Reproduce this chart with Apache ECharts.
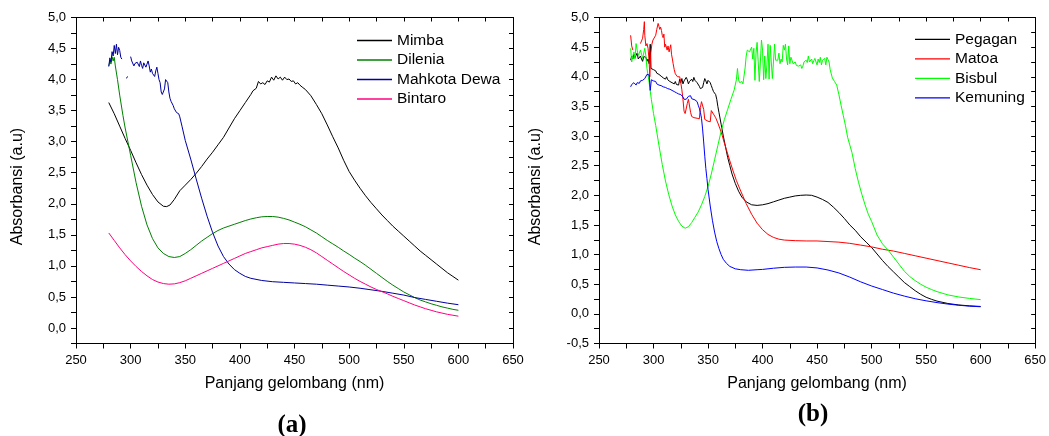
<!DOCTYPE html>
<html>
<head>
<meta charset="utf-8">
<script src="https://cdn.jsdelivr.net/npm/echarts@6/dist/echarts.min.js"></script>
<style>
html,body{margin:0;padding:0;background:#fff;}
#chart{width:1049px;height:436px;}
</style>
</head>
<body>
<div id="chart"></div>
<script>
// ---------- Panel (a) ----------
const seriesNamesA = ['Mimba', 'Dilenia', 'Mahkota Dewa', 'Bintaro'];
const mimba = [[280,3.63],[285,3.45],[290,3.25],[295,3.05],[300,2.86],[305,2.66],[310,2.47],[315,2.30],[320,2.15],[325,2.03],[330,1.96],[333,1.955],[336,1.98],[340,2.07],[345,2.21],[350,2.30],[355,2.39],[360,2.49],[365,2.60],[370,2.72],[375,2.83],[380,2.95],[385,3.07],[390,3.22],[395,3.37],[400,3.50],[405,3.63],[410,3.76],[412,3.82],[415,3.86],[417,3.97],[419,3.93],[421,3.95],[423,3.92],[425,3.98],[427,3.96],[429,4.04],[431,3.99],[433,4.06],[435,4.01],[437,4.04],[439,3.99],[441,4.04],[443,4.00],[445,4.01],[447,3.97],[449,3.98],[451,3.93],[453,3.95],[455,3.91],[457,3.88],[460,3.84],[465,3.74],[470,3.60],[475,3.45],[480,3.27],[485,3.08],[490,2.90],[495,2.70],[500,2.52],[505,2.38],[510,2.25],[515,2.13],[520,2.02],[525,1.92],[530,1.82],[535,1.73],[540,1.64],[545,1.56],[550,1.48],[555,1.40],[560,1.32],[565,1.24],[570,1.17],[575,1.10],[580,1.03],[585,0.96],[590,0.89],[595,0.83],[600,0.77]];
const dilenia = [[280,4.22],[281,4.30],[282,4.25],[283,4.37],[284,4.30],[285,4.36],[286,4.22],[288,4.00],[290,3.75],[293,3.42],[295,3.22],[300,2.78],[305,2.34],[310,1.96],[315,1.66],[320,1.44],[325,1.29],[330,1.20],[335,1.15],[340,1.135],[345,1.15],[350,1.20],[355,1.26],[360,1.33],[365,1.40],[370,1.46],[375,1.52],[380,1.57],[385,1.61],[390,1.64],[395,1.67],[400,1.70],[405,1.73],[410,1.755],[415,1.775],[420,1.79],[425,1.795],[430,1.795],[435,1.785],[440,1.765],[445,1.74],[450,1.705],[455,1.67],[460,1.63],[465,1.58],[470,1.53],[475,1.47],[480,1.41],[485,1.355],[490,1.30],[495,1.24],[500,1.185],[505,1.125],[510,1.07],[515,1.01],[520,0.945],[525,0.88],[530,0.815],[535,0.75],[540,0.69],[545,0.635],[550,0.58],[555,0.535],[560,0.49],[565,0.45],[570,0.42],[575,0.39],[580,0.365],[585,0.34],[590,0.32],[595,0.30],[600,0.285]];
const mahkotaDewa = [[280,4.21],[281,4.35],[282,4.28],[283,4.45],[284,4.38],[285,4.55],[286,4.42],[287,4.57],[288,4.40],[289,4.52],[290,4.47],[291,4.36],[292,4.33],[293,null],[295.8,4.02],[297.6,4.05],[298.5,null],[300,4.37],[301,4.30],[302,4.31],[303,4.22],[304,4.26],[305,4.24],[306,4.28],[307,4.25],[308,4.21],[309,4.30],[310,4.23],[311,4.18],[312,4.27],[313,4.28],[314,4.20],[315,4.25],[316,4.30],[317,4.22],[318,4.12],[319,4.17],[320,4.10],[321,4.08],[322,4.05],[323,4.14],[324,4.20],[325,4.10],[326,4.00],[327,3.95],[328,3.80],[329,3.76],[330,3.74],[331,3.85],[332,4.00],[333,4.02],[334,3.95],[335,3.80],[336,3.70],[337,3.65],[338,3.62],[339,3.58],[340,3.53],[341,3.50],[342,3.47],[343,3.48],[344,3.45],[345,3.40],[347,3.25],[350,3.02],[355,2.72],[360,2.40],[365,2.09],[370,1.80],[375,1.54],[380,1.32],[385,1.15],[390,1.03],[395,0.94],[400,0.88],[405,0.83],[410,0.80],[420,0.765],[430,0.745],[440,0.735],[450,0.725],[460,0.715],[470,0.705],[480,0.69],[490,0.675],[500,0.66],[510,0.64],[520,0.615],[530,0.59],[540,0.56],[550,0.53],[560,0.49],[570,0.46],[580,0.43],[590,0.40],[600,0.375]];
const bintaro = [[280,1.53],[285,1.41],[290,1.29],[295,1.18],[300,1.08],[305,0.99],[310,0.91],[315,0.84],[320,0.78],[325,0.74],[330,0.715],[335,0.705],[340,0.71],[345,0.73],[350,0.76],[355,0.80],[360,0.84],[365,0.88],[370,0.92],[375,0.96],[380,1.00],[385,1.04],[390,1.08],[395,1.12],[400,1.16],[405,1.20],[410,1.23],[415,1.26],[420,1.29],[425,1.31],[430,1.33],[435,1.35],[440,1.36],[445,1.36],[450,1.35],[455,1.33],[460,1.30],[465,1.26],[470,1.21],[475,1.15],[480,1.09],[485,1.03],[490,0.97],[495,0.91],[500,0.855],[505,0.80],[510,0.75],[515,0.705],[520,0.66],[525,0.62],[530,0.585],[535,0.55],[540,0.51],[545,0.475],[550,0.44],[555,0.405],[560,0.37],[565,0.34],[570,0.31],[575,0.285],[580,0.26],[585,0.24],[590,0.22],[595,0.205],[600,0.19]];

// ---------- Panel (b) ----------
const seriesNamesB = ['Pegagan', 'Matoa', 'Bisbul', 'Kemuning'];
const pegagan = [[279,4.28],[280,4.35],[281,4.30],[282,4.38],[283,4.32],[284,4.36],[285,4.40],[286,4.30],[287,4.28],[288,4.35],[289,4.30],[290,4.26],[291,4.34],[292,4.37],[293,4.33],[294,4.26],[295,4.30],[296,4.22],[297,4.55],[297.7,4.14],[299,4.14],[300,4.12],[302,4.10],[303,4.06],[304,4.08],[305,4.04],[306,4.07],[307,4.01],[308,4.03],[309,3.98],[310,4.01],[311,3.96],[312,4.00],[313,3.95],[314,3.97],[315,3.92],[316,3.95],[317,3.90],[318,3.93],[319,3.88],[320,3.92],[321,3.87],[322,3.90],[323,3.86],[324,3.96],[325,3.90],[326,3.97],[327,3.88],[328,3.93],[329,3.90],[330,3.99],[331,3.95],[332,3.88],[333,3.92],[334,3.90],[335,3.96],[336,3.92],[337,3.99],[338,3.94],[339,3.96],[340,3.90],[341,3.88],[342,3.84],[343,3.80],[344,3.78],[345,3.82],[346,3.90],[347,3.97],[348,3.93],[349,3.88],[350,3.94],[351,3.97],[352,3.90],[353,3.85],[354,3.80],[355,3.75],[356,3.74],[357,3.70],[358,3.62],[359,3.50],[360,3.40],[362,3.20],[364,3.00],[366,2.82],[368,2.64],[370,2.50],[372,2.36],[375,2.20],[378,2.07],[381,1.97],[385,1.89],[390,1.84],[395,1.83],[400,1.84],[405,1.86],[410,1.89],[415,1.92],[420,1.95],[425,1.97],[430,1.99],[435,2.00],[440,2.005],[445,2.00],[450,1.97],[455,1.93],[460,1.88],[465,1.80],[470,1.71],[475,1.61],[480,1.50],[485,1.41],[490,1.30],[495,1.21],[500,1.12],[505,1.01],[510,0.90],[515,0.80],[520,0.71],[525,0.62],[530,0.53],[535,0.46],[540,0.39],[545,0.33],[550,0.28],[555,0.245],[560,0.215],[570,0.175],[580,0.15],[590,0.135],[600,0.125]];
const matoa = [[279,4.70],[280,4.52],[281,4.45],[282,null],[288,4.56],[289,4.58],[290,4.65],[291,4.80],[291.6,4.93],[292,4.70],[293,4.52],[294,4.56],[295,4.48],[296,4.25],[296.6,4.00],[297.5,4.40],[298.5,4.55],[299.5,4.62],[301,4.65],[302,4.70],[303,4.80],[304.2,4.90],[305,4.85],[305.7,4.80],[306.5,4.84],[307.3,4.78],[308,4.70],[308.8,4.66],[309.5,4.72],[310.3,4.50],[311,4.55],[311.8,4.58],[312.5,4.45],[313.3,4.52],[314.3,4.42],[315,4.48],[315.8,4.54],[316.5,4.38],[317.3,4.30],[318,4.22],[319,4.12],[320,4.05],[321,4.02],[322,4.00],[323,3.99],[324,4.00],[325,3.90],[326,3.78],[327,3.62],[328,3.42],[329,3.38],[330,3.37],[331,3.55],[332,3.62],[333,3.61],[334,3.40],[335,3.33],[337,3.31],[340,3.30],[342,3.29],[343,3.48],[344,3.58],[345,3.57],[346,3.45],[347,3.28],[348,3.26],[350,3.25],[352,3.24],[353,3.43],[354,3.41],[355,3.37],[357,3.31],[359,3.22],[361,3.12],[363,3.01],[365,2.88],[367,2.76],[370,2.58],[373,2.41],[376,2.25],[380,2.07],[385,1.86],[390,1.68],[395,1.53],[400,1.42],[405,1.34],[410,1.29],[415,1.26],[420,1.245],[430,1.235],[440,1.23],[450,1.23],[460,1.22],[470,1.21],[480,1.19],[490,1.16],[500,1.13],[510,1.09],[520,1.06],[530,1.02],[540,0.98],[550,0.94],[560,0.90],[570,0.86],[580,0.82],[590,0.78],[600,0.745]];
const bisbul = [[279,4.48],[280,4.25],[281,4.35],[282,4.42],[283,4.30],[284,4.56],[285,4.45],[286,4.36],[287,4.40],[288,4.45],[289,4.38],[290,4.31],[291,4.40],[292,4.48],[293,4.35],[294,4.14],[296,3.90],[298,3.62],[300,3.38],[302,3.18],[305,2.84],[308,2.52],[311,2.24],[314,2.01],[317,1.82],[320,1.67],[323,1.56],[326,1.48],[329,1.445],[332,1.47],[335,1.54],[338,1.63],[341,1.72],[344,1.84],[347,1.98],[350,2.15],[353,2.36],[356,2.60],[359,2.84],[362,3.08],[365,3.28],[368,3.45],[371,3.62],[374,3.78],[376,3.95],[377,4.14],[378,3.95],[379,3.90],[380,3.88],[381,3.92],[382,3.88],[383,3.90],[384,4.15],[385,4.35],[386,4.45],[387,4.48],[388,4.42],[389,4.39],[390,4.50],[391,4.30],[392,4.48],[393,3.94],[394,4.40],[395,4.58],[396,4.25],[397,3.92],[398,4.25],[399,4.62],[400,4.45],[401,3.95],[402,4.35],[403,3.97],[404,4.20],[405,4.55],[406,3.96],[407,4.53],[408,4.25],[409,3.97],[410,4.25],[411,4.55],[412,4.28],[413,4.30],[414,4.28],[415,4.40],[416,4.22],[417,4.30],[418,4.25],[419,4.53],[420,4.45],[421,4.55],[422,4.30],[423,4.20],[424,4.52],[425,4.22],[426,4.33],[427,4.28],[428,4.22],[429,4.20],[430,4.25],[431,4.19],[432,4.22],[433,4.18],[434,4.15],[435,4.20],[436,4.14],[437,4.18],[438,4.25],[439,4.22],[440,4.28],[441,4.24],[442,4.35],[443,4.25],[444,4.28],[445,4.30],[446,4.22],[447,4.27],[448,4.31],[449,4.25],[450,4.20],[451,4.30],[452,4.24],[453,4.33],[454,4.20],[455,4.28],[456,4.25],[457,4.31],[458,4.20],[459,4.33],[460,4.30],[461,4.25],[462,4.12],[463,4.05],[464,3.98],[466,3.92],[468,3.86],[470,3.70],[472,3.52],[474,3.35],[476,3.18],[478,2.98],[480,2.85],[482,2.72],[485,2.45],[488,2.22],[491,2.02],[494,1.84],[497,1.68],[500,1.56],[505,1.33],[510,1.18],[515,1.08],[520,0.96],[525,0.84],[530,0.72],[535,0.63],[540,0.56],[545,0.50],[550,0.45],[555,0.41],[560,0.375],[570,0.32],[580,0.285],[590,0.26],[600,0.24]];
const kemuning = [[279,3.83],[280,3.87],[281,3.85],[282,3.90],[283,3.88],[284,3.86],[285,3.90],[286,3.91],[287,3.89],[288,3.93],[289,3.92],[290,3.94],[291,3.96],[292,3.97],[293,3.95],[294,4.04],[295,4.05],[296,4.03],[297,3.77],[298,3.95],[299,3.97],[300,3.93],[301,3.90],[302,3.92],[303,3.88],[304,3.90],[305,3.86],[306,3.88],[307,3.85],[308,3.86],[309,3.83],[310,3.85],[311,3.82],[312,3.83],[313,3.80],[314,3.82],[315,3.79],[316,3.80],[317,3.77],[318,3.78],[319,3.75],[320,3.76],[321,3.73],[322,3.74],[323,3.71],[324,3.72],[325,3.70],[326,3.68],[327,3.66],[328,3.62],[329,3.63],[330,3.62],[331,3.64],[332,3.67],[333,3.69],[334,3.68],[335,3.63],[336,3.62],[338,3.61],[340,3.58],[341,3.52],[342,3.47],[343,3.40],[344,3.30],[345,3.12],[346,2.90],[347,2.66],[348,2.45],[349,2.28],[350,2.10],[352,1.82],[354,1.58],[356,1.38],[358,1.22],[360,1.10],[362,1.00],[364,0.92],[367,0.85],[370,0.80],[375,0.76],[380,0.745],[387,0.735],[395,0.745],[400,0.75],[410,0.77],[420,0.785],[430,0.79],[440,0.79],[450,0.775],[460,0.74],[470,0.69],[480,0.62],[490,0.54],[500,0.47],[510,0.41],[520,0.35],[530,0.30],[540,0.255],[550,0.22],[560,0.19],[570,0.165],[580,0.145],[590,0.13],[600,0.12]];

const panelLabels = ['(a)', '(b)'];
const xAxisName = 'Panjang gelombang (nm)';
const yAxisName = 'Absorbansi (a.u)';

const colorsA = ['#000000', '#008000', '#0000a0', '#ff0080'];
const colorsB = ['#000000', '#ff0000', '#00ff00', '#0000ff'];

const FONT = 'Liberation Sans, Arial, sans-serif';

function yFmt(v) {
  const r = Math.round(v * 100) / 100;
  if (Math.abs(r * 2 - Math.round(r * 2)) > 1e-6) return '';
  return r.toFixed(1).replace('.', ',');
}
function xFmt(v) {
  return (Math.round(v) % 50 === 0) ? String(Math.round(v)) : '';
}

const grids = [
  {left: 76, top: 17.5, width: 437, height: 326},
  {left: 599, top: 17.5, width: 438, height: 326}
];

function mainX(gi) {
  return {type: 'value', gridIndex: gi, min: 250, max: 650, interval: 25,
    name: xAxisName, nameLocation: 'middle', nameGap: 32,
    nameTextStyle: {fontFamily: FONT, fontSize: 16, color: '#000'},
    axisLine: {show: true, onZero: false, lineStyle: {color: '#000', width: 1}},
    axisTick: {show: true, inside: false, length: 5, lineStyle: {color: '#000'}},
    axisLabel: {formatter: xFmt, fontFamily: FONT, fontSize: 13, color: '#000', margin: 10, showMinLabel: true, showMaxLabel: true},
    splitLine: {show: false}};
}
function topX(gi) {
  return {type: 'value', gridIndex: gi, position: 'top', min: 250, max: 650, interval: 25,
    axisLine: {show: true, onZero: false, lineStyle: {color: '#000', width: 1}},
    axisTick: {show: true, inside: true, length: 4, lineStyle: {color: '#000'}},
    axisLabel: {show: false}, splitLine: {show: false}};
}
function mainY(gi, min, gap) {
  return {type: 'value', gridIndex: gi, min: min, max: 5, interval: 0.25,
    name: yAxisName, nameLocation: 'middle', nameGap: gap,
    nameTextStyle: {fontFamily: FONT, fontSize: 16, color: '#000', padding: [0, 12, 0, 0]},
    axisLine: {show: true, onZero: false, lineStyle: {color: '#000', width: 1}},
    axisTick: {show: true, inside: false, length: 5, lineStyle: {color: '#000'}},
    axisLabel: {formatter: yFmt, fontFamily: FONT, fontSize: 13, color: '#000', margin: 10, showMinLabel: true, showMaxLabel: true},
    splitLine: {show: false}};
}
function rightY(gi, min) {
  return {type: 'value', gridIndex: gi, position: 'right', min: min, max: 5, interval: 0.25,
    axisLine: {show: true, onZero: false, lineStyle: {color: '#000', width: 1}},
    axisTick: {show: true, inside: true, length: 4, lineStyle: {color: '#000'}},
    axisLabel: {show: false}, splitLine: {show: false}};
}

function mkSeries(name, data, color, xi, yi) {
  return {name: name, type: 'line', data: data, xAxisIndex: xi, yAxisIndex: yi,
    symbol: 'none', showSymbol: false, connectNulls: false, smooth: false,
    lineStyle: {color: color, width: 1}, itemStyle: {color: color},
    emphasis: {disabled: true}, animation: false};
}

const legendCommon = {orient: 'vertical', icon: 'rect', itemWidth: 35, itemHeight: 1.3, itemGap: 3.5, padding: 0,
  textStyle: {fontFamily: FONT, fontSize: 15.5, lineHeight: 16, color: '#000'}, selectedMode: false};

const option = {
  animation: false,
  backgroundColor: '#fff',
  grid: grids,
  xAxis: [mainX(0), topX(0), mainX(1), topX(1)],
  yAxis: [mainY(0, -0.25, 50), rightY(0, -0.25), mainY(1, -0.5, 55), rightY(1, -0.5)],
  legend: [
    Object.assign({}, legendCommon, {data: seriesNamesA, left: 357, top: 32.5}),
    Object.assign({}, legendCommon, {data: seriesNamesB, left: 915, top: 31.3})
  ],
  graphic: [
    {type: 'text', x: 292, y: 426, style: {text: panelLabels[0], textAlign: 'center', textVerticalAlign: 'middle', font: 'bold 25px "Liberation Serif", "Times New Roman", serif', fill: '#000'}},
    {type: 'text', x: 813, y: 415, style: {text: panelLabels[1], textAlign: 'center', textVerticalAlign: 'middle', font: 'bold 25px "Liberation Serif", "Times New Roman", serif', fill: '#000'}}
  ],
  series: [
    mkSeries(seriesNamesA[0], mimba, colorsA[0], 0, 0),
    mkSeries(seriesNamesA[1], dilenia, colorsA[1], 0, 0),
    mkSeries(seriesNamesA[2], mahkotaDewa, colorsA[2], 0, 0),
    mkSeries(seriesNamesA[3], bintaro, colorsA[3], 0, 0),
    mkSeries(seriesNamesB[0], pegagan, colorsB[0], 2, 2),
    mkSeries(seriesNamesB[1], matoa, colorsB[1], 2, 2),
    mkSeries(seriesNamesB[2], bisbul, colorsB[2], 2, 2),
    mkSeries(seriesNamesB[3], kemuning, colorsB[3], 2, 2)
  ]
};

const chart = echarts.init(document.getElementById('chart'), null, {renderer: 'canvas'});
chart.setOption(option);
</script>
</body>
</html>
